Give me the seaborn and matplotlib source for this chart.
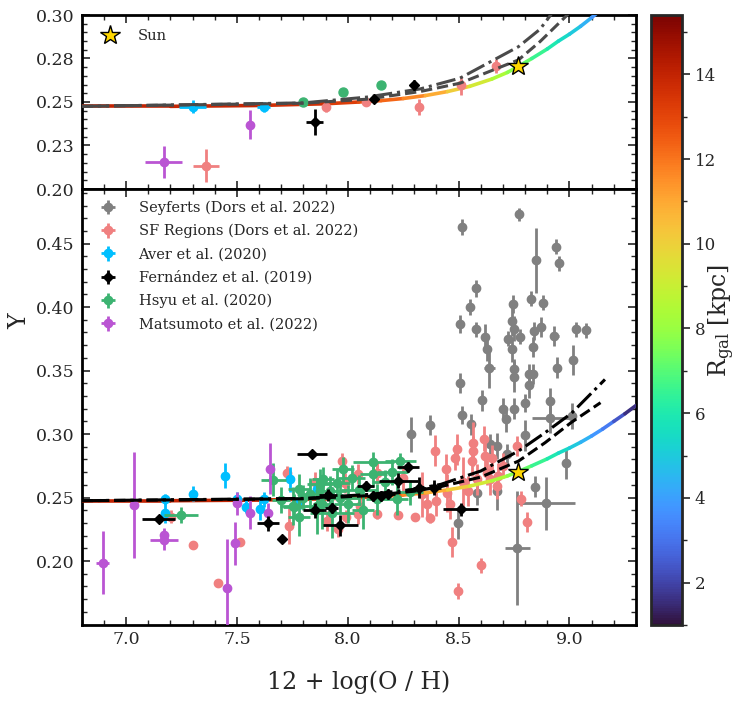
import numpy as np
import pandas as pd
import matplotlib
matplotlib.use("Agg")
import matplotlib.pyplot as plt
import seaborn as sns
from matplotlib.collections import LineCollection
from matplotlib.colors import Normalize
from matplotlib.ticker import MultipleLocator, FormatStrFormatter
import matplotlib.cm as cm

# ---------------- data ----------------
# Model curve coloured by galactocentric radius
curve_oh = [6.80, 7.20, 7.60, 7.90, 8.05, 8.15, 8.25, 8.35, 8.45, 8.55, 8.65, 8.72,
            8.77, 8.83, 8.90, 8.95, 9.00, 9.05, 9.10, 9.15, 9.20, 9.25, 9.30]
curve_y = [0.2475, 0.2475, 0.2480, 0.2490, 0.2500, 0.2508, 0.2520, 0.2537, 0.2560, 0.2590,
           0.2632, 0.2670, 0.2705, 0.2750, 0.2805, 0.2850, 0.2890, 0.2935, 0.2985, 0.3040,
           0.3100, 0.3160, 0.3225]
curve_r = [14.0, 14.0, 13.8, 13.5, 13.0, 12.5, 12.0, 11.3, 10.5, 9.7, 8.8, 8.0,
           7.5, 6.9, 6.2, 5.7, 5.2, 4.7, 4.1, 3.5, 2.8, 2.0, 1.2]

# bottom panel black model lines
dash_oh = [6.80, 7.80, 8.10, 8.30, 8.42, 8.60, 8.77, 8.89, 9.01, 9.14]
dash_y = [0.2475, 0.2490, 0.2515, 0.2550, 0.2586, 0.2661, 0.2787, 0.2932, 0.3094, 0.3247]
dashdot_oh = [6.80, 7.80, 8.10, 8.30, 8.42, 8.60, 8.77, 8.89, 9.01, 9.16]
dashdot_y = [0.2475, 0.2493, 0.2525, 0.2565, 0.2604, 0.2709, 0.2866, 0.3011, 0.3165, 0.3430]

# top panel grey model lines
top_dash_oh = [6.80, 7.80, 8.085, 8.326, 8.506, 8.77, 8.867, 8.99, 9.02]
top_dash_y = [0.2475, 0.2493, 0.2516, 0.2560, 0.2608, 0.2742, 0.2847, 0.3000, 0.3040]
top_dashdot_oh = [6.80, 7.80, 8.085, 8.326, 8.506, 8.77, 8.867, 8.915, 8.95]
top_dashdot_y = [0.2475, 0.2495, 0.2528, 0.2575, 0.2637, 0.2818, 0.2918, 0.3000, 0.3060]

sun_oh = 8.77
sun_y = 0.2705

# Seyferts (Dors et al. 2022)
sey_x = [8.517, 8.771, 8.938, 8.951, 8.849, 8.580, 8.552, 8.504, 8.578, 8.617, 8.630, 8.638,
         8.745, 8.740, 8.751, 8.724, 8.740, 8.778, 8.748, 8.751, 8.826, 8.882, 8.872, 8.840,
         8.837, 8.818, 8.837, 8.818, 8.800, 8.931, 8.943, 9.014, 9.029, 9.074, 8.504, 8.605,
         8.514, 8.556, 8.700, 8.750, 8.714, 8.913, 8.913, 9.011, 8.642, 8.672, 8.800, 8.717,
         8.985, 8.845, 8.675, 8.582, 8.895, 8.765, 8.499, 8.284, 8.371]
sey_y = [0.463, 0.473, 0.4476, 0.4344, 0.4368, 0.4147, 0.400, 0.3864, 0.3824, 0.3764, 0.3672, 0.3523,
         0.4027, 0.389, 0.383, 0.3751, 0.3667, 0.3767, 0.351, 0.3452, 0.4066, 0.4035, 0.3843, 0.3811,
         0.3688, 0.3475, 0.3475, 0.3383, 0.3247, 0.3772, 0.3523, 0.3583, 0.3824, 0.3817, 0.340, 0.3265,
         0.3147, 0.3076, 0.320, 0.320, 0.3116, 0.326, 0.313, 0.3142, 0.2919, 0.2906, 0.299, 0.284,
         0.2769, 0.2586, 0.2551, 0.2539, 0.2454, 0.2105, 0.2297, 0.2998, 0.3069]
sey_xerr = [0.01, 0.01, 0.01, 0.01, 0.02, 0.01, 0.01, 0.01, 0.01, 0.01, 0.01, 0.025,
            0.01, 0.01, 0.01, 0.01, 0.01, 0.01, 0.01, 0.01, 0.01, 0.01, 0.01, 0.01,
            0.01, 0.01, 0.01, 0.01, 0.01, 0.02, 0.01, 0.01, 0.01, 0.01, 0.01, 0.01,
            0.01, 0.01, 0.01, 0.01, 0.01, 0.01, 0.083, 0.01, 0.01, 0.01, 0.01, 0.01,
            0.01, 0.01, 0.01, 0.01, 0.13, 0.055, 0.01, 0.01, 0.01]
sey_yerr = [0.006, 0.005, 0.006, 0.006, 0.0256, 0.007, 0.006, 0.007, 0.006, 0.010, 0.010, 0.016,
            0.007, 0.012, 0.010, 0.006, 0.010, 0.006, 0.008, 0.012, 0.006, 0.006, 0.008, 0.007,
            0.008, 0.008, 0.008, 0.010, 0.007, 0.008, 0.008, 0.012, 0.006, 0.006, 0.008, 0.008,
            0.007, 0.008, 0.008, 0.008, 0.010, 0.010, 0.012, 0.010, 0.008, 0.010, 0.012, 0.008,
            0.012, 0.008, 0.015, 0.010, 0.021, 0.045, 0.012, 0.0138, 0.008]

# SF Regions (Dors et al. 2022)
sf_x = [7.204, 7.300, 7.413, 7.513, 7.726, 7.733, 7.973, 7.988, 8.131, 7.905, 8.228, 8.304,
        8.371, 8.394, 8.356, 8.333, 8.400, 8.055, 8.048, 8.131, 7.958, 7.990, 8.048, 8.134,
        8.444, 8.492, 8.485, 8.564, 8.560, 8.567, 8.544, 8.582, 8.614, 8.619, 8.649, 8.627,
        8.642, 8.679, 8.672, 8.765, 8.781, 8.810, 8.469, 8.600, 8.499, 8.446, 8.460, 8.520,
        8.700, 8.250, 7.850]
sf_y = [0.2350, 0.2126, 0.1824, 0.2153, 0.2690, 0.2276, 0.2787, 0.2617, 0.2696, 0.2315, 0.2360, 0.2350,
        0.2342, 0.2870, 0.2446, 0.2525, 0.2475, 0.2433, 0.2368, 0.2368, 0.2250, 0.2350, 0.2683, 0.2690,
        0.2722, 0.2880, 0.2814, 0.2866, 0.2787, 0.2932, 0.2551, 0.2643, 0.2963, 0.2827, 0.2814, 0.2696,
        0.2643, 0.2669, 0.2591, 0.2906, 0.2491, 0.2307, 0.2150, 0.1966, 0.1764, 0.2539, 0.2450, 0.2620,
        0.2750, 0.2650, 0.2620]
sf_yerr = [0.005, 0.002, 0.003, 0.003, 0.006, 0.014, 0.006, 0.008, 0.008, 0.008, 0.003, 0.003,
           0.004, 0.012, 0.010, 0.018, 0.012, 0.006, 0.008, 0.004, 0.006, 0.005, 0.008, 0.008,
           0.012, 0.012, 0.010, 0.012, 0.012, 0.016, 0.012, 0.012, 0.010, 0.012, 0.010, 0.010,
           0.012, 0.010, 0.010, 0.008, 0.006, 0.008, 0.012, 0.006, 0.006, 0.015, 0.012, 0.020,
           0.010, 0.010, 0.008]

# Aver et al. (2020)
aver_x = [7.175, 7.175, 7.300, 7.445, 7.500, 7.541, 7.603, 7.621, 7.740, 7.860, 7.785]
aver_y = [0.2486, 0.2381, 0.2530, 0.2672, 0.2486, 0.2428, 0.2413, 0.2486, 0.2643, 0.2565, 0.2472]
aver_xerr = [0.01, 0.01, 0.01, 0.01, 0.01, 0.01, 0.01, 0.01, 0.01, 0.01, 0.01]
aver_yerr = [0.004, 0.008, 0.006, 0.010, 0.006, 0.005, 0.009, 0.006, 0.010, 0.006, 0.006]

# Fernández et al. (2019)
fer_x = [7.147, 7.642, 7.702, 7.838, 7.850, 7.910, 7.928, 7.967, 8.080, 8.116, 8.150, 8.183,
         8.228, 8.271, 8.323, 8.389, 8.510]
fer_y = [0.2328, 0.2297, 0.2170, 0.2840, 0.2400, 0.2520, 0.2420, 0.2280, 0.2588, 0.2512, 0.2512, 0.2525,
         0.2632, 0.2740, 0.2578, 0.2578, 0.2407]
fer_xerr = [0.075, 0.05, 0.01, 0.068, 0.05, 0.04, 0.03, 0.08, 0.04, 0.03, 0.03, 0.03,
            0.087, 0.05, 0.03, 0.03, 0.079]
fer_yerr = [0.003, 0.006, 0.003, 0.003, 0.006, 0.005, 0.004, 0.008, 0.004, 0.004, 0.004, 0.004,
            0.006, 0.004, 0.0085, 0.006, 0.005]

# Hsyu et al. (2020)
hsyu_x = [7.248, 7.664, 7.757, 7.779, 7.755, 7.875, 7.890, 7.920, 7.950, 7.980, 7.965, 8.018,
          8.116, 8.116, 8.131, 8.221, 8.236, 7.860, 7.883, 7.800, 7.830, 8.050, 8.000, 7.700,
          8.170, 8.280, 8.070, 7.930, 7.780, 8.200]
hsyu_y = [0.2362, 0.2640, 0.2428, 0.2565, 0.2433, 0.2604, 0.2643, 0.2551, 0.2617, 0.2722, 0.2499, 0.2657,
          0.2776, 0.2683, 0.2486, 0.2486, 0.2787, 0.2433, 0.2450, 0.2500, 0.2530, 0.2560, 0.2450, 0.2480,
          0.2620, 0.2540, 0.2400, 0.2380, 0.2350, 0.2700]
hsyu_xerr = [0.075, 0.056, 0.05, 0.05, 0.06, 0.06, 0.05, 0.07, 0.06, 0.05, 0.08, 0.06,
             0.094, 0.06, 0.05, 0.05, 0.07, 0.05, 0.04, 0.05, 0.06, 0.08, 0.06, 0.04,
             0.06, 0.06, 0.05, 0.10, 0.05, 0.07]
hsyu_yerr = [0.0065, 0.013, 0.010, 0.012, 0.015, 0.012, 0.010, 0.012, 0.010, 0.010, 0.012, 0.010,
             0.008, 0.010, 0.012, 0.012, 0.006, 0.022, 0.020, 0.010, 0.012, 0.012, 0.015, 0.010,
             0.010, 0.010, 0.015, 0.020, 0.015, 0.010]

# Matsumoto et al. (2022)
mat_x = [6.895, 7.035, 7.170, 7.170, 7.456, 7.493, 7.502, 7.561, 7.639, 7.650]
mat_y = [0.1987, 0.2439, 0.2202, 0.2166, 0.1790, 0.2139, 0.2454, 0.2380, 0.2376, 0.2728]
mat_xerr = [0.03, 0.01, 0.01, 0.064, 0.01, 0.01, 0.01, 0.01, 0.01, 0.01]
mat_yerr = [0.025, 0.0416, 0.006, 0.008, 0.038, 0.017, 0.009, 0.013, 0.008, 0.020]

# Top panel (averaged values)
t_mat_x = [7.17, 7.56]; t_mat_y = [0.2155, 0.2369]; t_mat_xerr = [0.083, 0.015]; t_mat_yerr = [0.0094, 0.0084]
t_sf_x = [7.36, 7.90, 8.08, 8.32, 8.51, 8.67]
t_sf_y = [0.2134, 0.2474, 0.2500, 0.2472, 0.2597, 0.2707]
t_sf_xerr = [0.058, 0.0, 0.0, 0.0, 0.0, 0.0]
t_sf_yerr = [0.0094, 0.003, 0.002, 0.0045, 0.0055, 0.004]
t_aver_x = [7.30, 7.62]; t_aver_y = [0.2474, 0.2470]; t_aver_xerr = [0.06, 0.03]; t_aver_yerr = [0.004, 0.003]
t_fer_x = [7.85, 8.12, 8.30]; t_fer_y = [0.2386, 0.2516, 0.2598]; t_fer_xerr = [0.04, 0.01, 0.01]; t_fer_yerr = [0.0076, 0.002, 0.003]
t_hsyu_x = [7.80, 7.98, 8.15]; t_hsyu_y = [0.2500, 0.2556, 0.2597]

x_ticks = [7.0, 7.5, 8.0, 8.5, 9.0]
top_yticks = [0.20, 0.225, 0.25, 0.275, 0.30]
bot_yticks = [0.20, 0.25, 0.30, 0.35, 0.40, 0.45]
cbar_ticks = [2, 4, 6, 8, 10, 12, 14]

# ---------------- style ----------------
sns.set_theme(style="ticks")
plt.rcParams["font.family"] = ["DejaVu Serif"]
plt.rcParams["mathtext.fontset"] = "dejavuserif"

C_SEY = "grey"
C_SF = "lightcoral"
C_AVER = "deepskyblue"
C_FER = "black"
C_HSYU = "mediumseagreen"
C_MAT = "mediumorchid"

norm = Normalize(vmin=1.0, vmax=15.4)
cmap = plt.get_cmap("turbo")

fig = plt.figure(figsize=(7.47, 7.06), dpi=100)
W, H = 747.0, 706.0
def axrect(l, t, r, b):
    return [l / W, 1 - b / H, (r - l) / W, (b - t) / H]

ax1 = fig.add_axes(axrect(81.7, 15, 636, 189))
ax2 = fig.add_axes(axrect(81.7, 189, 636, 624.5))
cax = fig.add_axes(axrect(651, 15, 682, 625))


def colored_curve(ax):
    pts = np.array([curve_oh, curve_y]).T.reshape(-1, 1, 2)
    segs = np.concatenate([pts[:-1], pts[1:]], axis=1)
    r = np.array(curve_r)
    lc = LineCollection(segs, cmap=cmap, norm=norm, linewidth=2.6, zorder=3,
                        capstyle="round")
    lc.set_array(0.5 * (r[:-1] + r[1:]))
    ax.add_collection(lc)
    return lc


def eb(ax, x, y, xerr, yerr, color, marker="o", ms=6, z=4, label=None):
    ax.errorbar(x, y, xerr=xerr, yerr=yerr, fmt=marker, color=color, ms=ms,
                elinewidth=2, capsize=0, zorder=z, label=label, mec=color)


# ---------------- top panel ----------------
colored_curve(ax1)
sns.lineplot(x=top_dashdot_oh, y=top_dashdot_y, ax=ax1, color="#4a4a4a", lw=2.2,
             linestyle="-.", sort=False, estimator=None, zorder=5)
sns.lineplot(x=top_dash_oh, y=top_dash_y, ax=ax1, color="#4a4a4a", lw=2.2,
             linestyle="--", sort=False, estimator=None, zorder=5)
eb(ax1, t_mat_x, t_mat_y, t_mat_xerr, t_mat_yerr, C_MAT)
eb(ax1, t_sf_x, t_sf_y, t_sf_xerr, t_sf_yerr, C_SF)
eb(ax1, t_aver_x, t_aver_y, t_aver_xerr, t_aver_yerr, C_AVER)
eb(ax1, t_fer_x, t_fer_y, t_fer_xerr, t_fer_yerr, C_FER, marker="D", ms=5.5, z=6)
ax1.plot(t_hsyu_x, t_hsyu_y, "o", color=C_HSYU, ms=6.5, zorder=4)
ax1.plot([sun_oh], [sun_y], "*", color="gold", mec="black", mew=1.0, ms=15,
         zorder=8, label="Sun", linestyle="none")
ax1.legend(loc="upper left", frameon=False, fontsize=10.5, handletextpad=0.9,
           borderaxespad=0.5, borderpad=0.45)

ax1.set_xlim(6.8, 9.3)
ax1.set_ylim(0.20, 0.30)
ax1.set_xticks(x_ticks)
ax1.set_xticklabels([])
ax1.set_yticks(top_yticks)
ax1.yaxis.set_major_formatter(FormatStrFormatter("%.2f"))
ax1.yaxis.set_minor_locator(MultipleLocator(0.005))

# ---------------- bottom panel ----------------
colored_curve(ax2)
sns.lineplot(x=dashdot_oh, y=dashdot_y, ax=ax2, color="black", lw=2.2,
             linestyle="-.", sort=False, estimator=None, zorder=5)
sns.lineplot(x=dash_oh, y=dash_y, ax=ax2, color="black", lw=2.2,
             linestyle="--", sort=False, estimator=None, zorder=5)
eb(ax2, sey_x, sey_y, sey_xerr, sey_yerr, C_SEY, z=2, label="Seyferts (Dors et al. 2022)")
eb(ax2, sf_x, sf_y, [0.008] * len(sf_x), sf_yerr, C_SF, z=2.5, label="SF Regions (Dors et al. 2022)")
eb(ax2, aver_x, aver_y, aver_xerr, aver_yerr, C_AVER, z=3.5, label="Aver et al. (2020)")
eb(ax2, fer_x, fer_y, fer_xerr, fer_yerr, C_FER, marker="D", ms=5.5, z=6, label="Fernández et al. (2019)")
eb(ax2, hsyu_x, hsyu_y, hsyu_xerr, hsyu_yerr, C_HSYU, z=4, label="Hsyu et al. (2020)")
eb(ax2, mat_x, mat_y, mat_xerr, mat_yerr, C_MAT, z=4.5, label="Matsumoto et al. (2022)")
ax2.plot([sun_oh], [sun_y], "*", color="gold", mec="black", mew=1.0, ms=15, zorder=8)
ax2.legend(loc="upper left", frameon=False, fontsize=10.5, handletextpad=1.1,
           borderaxespad=0.4, labelspacing=0.62)

ax2.set_xlim(6.8, 9.3)
ax2.set_ylim(0.15, 0.493)
ax2.set_xticks(x_ticks)
ax2.set_xticklabels([f"{v:.1f}" for v in x_ticks])
ax2.set_yticks(bot_yticks)
ax2.yaxis.set_major_formatter(FormatStrFormatter("%.2f"))
ax2.yaxis.set_minor_locator(MultipleLocator(0.01))
ax2.set_xlabel("12 + log(O / H)", fontsize=17, labelpad=16)

for ax in (ax1, ax2):
    ax.xaxis.set_minor_locator(MultipleLocator(0.1))
    ax.tick_params(which="both", direction="in", top=True, right=True, labelsize=12.5)
    ax.tick_params(which="major", length=6, width=1.2, pad=5)
    ax.tick_params(which="minor", length=3.5, width=1.0)
    for s in ax.spines.values():
        s.set_linewidth(2)
        s.set_color("black")

fig.text(0.026, 0.545, "Y", rotation=90, fontsize=17, ha="center", va="center")

# ---------------- colour bar ----------------
sm = cm.ScalarMappable(norm=norm, cmap=cmap)
cb = fig.colorbar(sm, cax=cax)
cb.set_ticks(cbar_ticks)
cb.ax.yaxis.set_minor_locator(MultipleLocator(1))
cb.ax.tick_params(which="both", direction="out", labelsize=12)
cb.ax.tick_params(which="major", length=6, width=1.2, pad=3)
cb.ax.tick_params(which="minor", length=3.5, width=1.0)
cb.outline.set_linewidth(2)
fig.text(722 / W, 1 - 320 / H, r"R$_{\rm gal}$ [kpc]", rotation=90, fontsize=17,
         ha="center", va="center")

fig.savefig("out.png", dpi=100)
